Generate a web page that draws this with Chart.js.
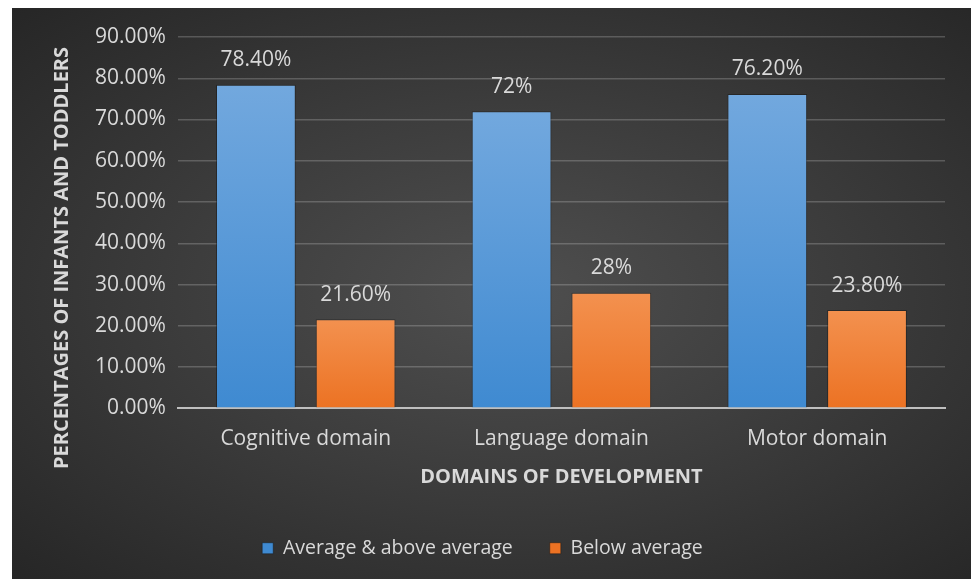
<!DOCTYPE html>
<html>
<head>
<meta charset="utf-8">
<script src="https://cdn.jsdelivr.net/npm/chart.js@4.4.1/dist/chart.umd.min.js"></script>
<style>
  html, body { margin: 0; padding: 0; background: #ffffff; }
  #wrap {
    position: absolute; left: 12px; top: 8px; width: 959px; height: 571px;
    background: radial-gradient(ellipse at 52% 50%, #4f4f4f 0%, #3d3d3d 45%, #262626 100%);
  }
</style>
</head>
<body>
<div id="wrap"><canvas id="grafico" width="959" height="571"></canvas></div>
<script>
// dados do gráfico
const categorias = ['Cognitive domain', 'Language domain', 'Motor domain'];
const acimaMedia = [78.4, 72, 76.2];
const abaixoMedia = [21.6, 28, 23.8];
const rotulosAcima = ['78.40%', '72%', '76.20%'];
const rotulosAbaixo = ['21.60%', '28%', '23.80%'];
const tituloY = 'PERCENTAGES OF INFANTS AND TODDLERS';
const tituloX = 'DOMAINS OF DEVELOPMENT';

const fonte = '"Open Sans", Lato, sans-serif';
const corTexto = '#d9d9d9';

// gradiente vertical por barra
function gradienteBarra(topo, base) {
    return function(context) {
        const chart = context.chart;
        const area = chart.chartArea;
        if (!area || context.parsed == null) return base;
        const yTopo = chart.scales.y.getPixelForValue(context.parsed.y);
        const g = chart.ctx.createLinearGradient(0, yTopo, 0, area.bottom);
        g.addColorStop(0, topo);
        g.addColorStop(1, base);
        return g;
    };
}

// rótulos em cima das barras + título do eixo y
const rotulosPlugin = {
    id: 'rotulos',
    afterDatasetsDraw(chart) {
        const ctx = chart.ctx;
        ctx.save();
        ctx.font = '21px ' + fonte;
        ctx.fillStyle = corTexto;
        ctx.textAlign = 'center';
        ctx.textBaseline = 'bottom';
        chart.data.datasets.forEach((ds, i) => {
            const meta = chart.getDatasetMeta(i);
            meta.data.forEach((bar, j) => {
                ctx.fillText(ds.rotulos[j], bar.x, bar.y - 14);
            });
        });
        // título do eixo y
        ctx.translate(50, 250);
        ctx.rotate(-Math.PI / 2);
        ctx.font = 'bold 20px ' + fonte;
        ctx.textBaseline = 'middle';
        ctx.fillText(tituloY, 0, 0);
        ctx.restore();
    }
};

const ctx = document.getElementById('grafico').getContext('2d');
new Chart(ctx, {
    type: 'bar',
    data: {
        labels: categorias,
        datasets: [{
            label: 'Average & above average',
            data: acimaMedia,
            rotulos: rotulosAcima,
            backgroundColor: gradienteBarra('#72a8de', '#3f8ad1'),
            borderColor: 'rgba(20,20,20,0.45)',
            borderWidth: 1,
            categoryPercentage: 0.78,
            barPercentage: 0.8
        }, {
            label: 'Below average',
            data: abaixoMedia,
            rotulos: rotulosAbaixo,
            backgroundColor: gradienteBarra('#f3914f', '#ec7223'),
            borderColor: 'rgba(20,20,20,0.45)',
            borderWidth: 1,
            categoryPercentage: 0.78,
            barPercentage: 0.8
        }]
    },
    options: {
        responsive: false,
        animation: false,
        layout: { padding: { left: 8, right: 26, top: 29, bottom: 11 } },
        plugins: {
            tooltip: { enabled: false },
            legend: {
                position: 'bottom',
                labels: {
                    color: corTexto,
                    font: { family: fonte, size: 19.5 },
                    boxWidth: 11,
                    boxHeight: 11,
                    padding: 37
                }
            }
        },
        scales: {
            x: {
                grid: { display: false },
                border: { display: true, color: '#bfbfbf', width: 2 },
                ticks: { color: corTexto, font: { family: fonte, size: 21 }, padding: 10 },
                title: {
                    display: true,
                    text: tituloX,
                    color: corTexto,
                    font: { family: fonte, size: 20, weight: 'bold' },
                    padding: { top: 4, bottom: 12 }
                }
            },
            y: {
                min: 0,
                max: 90,
                // espaço para o título do eixo y desenhado no plugin
                afterFit: scale => { scale.width += 63; },
                ticks: {
                    stepSize: 10,
                    color: corTexto,
                    font: { family: fonte, size: 21 },
                    padding: 12,
                    callback: v => v.toFixed(2) + '%'
                },
                grid: {
                    drawTicks: false,
                    color: c => c.tick.value === 0 ? 'rgba(0,0,0,0)' : 'rgba(255,255,255,0.2)',
                    lineWidth: 1.5
                },
                border: { display: false }
            }
        }
    },
    plugins: [rotulosPlugin]
});
</script>
</body>
</html>
